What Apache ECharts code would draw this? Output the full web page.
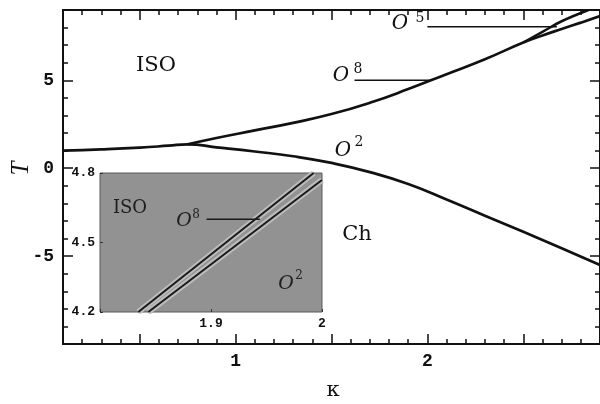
<!DOCTYPE html>
<html><head><meta charset="utf-8">
<script src="https://cdn.jsdelivr.net/npm/echarts@6/dist/echarts.min.js"></script>
<style>html,body{margin:0;padding:0;background:#fff}#c{width:600px;height:404px}</style>
</head><body><div id="c"></div>
<script>
// ---- data ----
const xMin = 0.1, xMax = 2.9, yMin = -10, yMax = 9;
const xMajorTicks = [0.5, 1, 1.5, 2, 2.5];
const xTickLabels = [1, 2];
const yMajorTicks = [-5, 0, 5];
const yTickLabels = [-5, 0, 5];

// ISO line that continues into the O2 / Ch boundary
const kappaLower = [0.1, 0.3, 0.5, 0.65, 0.75, 0.9, 1.1, 1.3, 1.5, 1.7, 1.9, 2.1, 2.3, 2.5, 2.7, 2.9];
const tLower     = [1.0, 1.07, 1.17, 1.28, 1.36, 1.19, 0.95, 0.68, 0.3, -0.22, -0.9, -1.78, -2.7, -3.62, -4.55, -5.5];
// ISO / O8 boundary, continuing as O8 / O5 boundary
const kappaUpper = [0.75, 0.9, 1.1, 1.3, 1.5, 1.7, 1.9, 2.1, 2.3, 2.5, 2.6, 2.7, 2.8, 2.9];
const tUpper     = [1.36, 1.72, 2.15, 2.58, 3.08, 3.72, 4.5, 5.35, 6.2, 7.15, 7.55, 7.92, 8.28, 8.65];
// ISO / O5 boundary
const kappaO5 = [2.5, 2.6, 2.7, 2.84];
const tO5     = [7.15, 7.76, 8.36, 9.0];

// inset (kappa 1.8..2.0, T 4.2..4.8)
const insetXMin = 1.8, insetXMax = 2.0, insetYMin = 4.2, insetYMax = 4.8;
const insetXLabels = [1.9, 2];
const insetKappaA = [1.8345, 1.9925];
const insetTA     = [4.2, 4.8];
const insetKappaB = [1.8435, 2.0];
const insetTB     = [4.2, 4.77];

// pointer lines of the labels
const ptrO8 = [[1.62, 5.0], [2.01, 5.0]];
const ptrO5 = [[2.0, 8.05], [2.675, 8.05]];
const ptrInsetO8 = [[1.896, 4.6], [1.944, 4.6]];

// ---- chart ----
const zip = (xs, ys) => xs.map((x, i) => [x, ys[i]]);
const black = '#111';
const tickFont = {fontFamily: 'Liberation Mono', fontWeight: 'bold', fontSize: 18, color: black};
const insetFont = {fontFamily: 'Liberation Mono', fontWeight: 'bold', fontSize: 13, color: black};
const minorTick = {show: true, inside: true, length: 5, lineStyle: {color: black, width: 1.5}};
const majorTick = {show: true, inside: true, length: 10, lineStyle: {color: black, width: 1.5}};
const insetTick = {show: true, inside: true, length: 3, lineStyle: {color: '#333', width: 1}};
const axLine = {show: true, onZero: false, lineStyle: {color: black, width: 2}};
const noLine = {show: false, onZero: false};

const mainX = {type: 'value', gridIndex: 0, min: xMin, max: xMax, splitLine: {show: false}};
const mainY = {type: 'value', gridIndex: 0, min: yMin, max: yMax, splitLine: {show: false}};

const lineS = (data, xi, yi, width, color, extra) => Object.assign({
  type: 'line', xAxisIndex: xi, yAxisIndex: yi, data: data, symbol: 'none',
  lineStyle: {color: color, width: width}, silent: true, animation: false
}, extra || {});

const txt = (text, x, y, font, fill, extra) => Object.assign({
  type: 'text', z: 100, x: x, y: y,
  style: {text: text, x: 0, y: 0, align: 'center', verticalAlign: 'middle', font: font, fill: fill || black}
}, extra || {});

const chart = echarts.init(document.getElementById('c'));
chart.setOption({
  animation: false,
  backgroundColor: '#fff',
  grid: [
    {left: 63, top: 10, width: 537, height: 334, outerBoundsMode: 'none'},
    {left: 100, top: 173, width: 222, height: 139, show: true, outerBoundsMode: 'none',
     backgroundColor: '#929292', borderColor: '#5a5a5a', borderWidth: 1}
  ],
  xAxis: [
    Object.assign({}, mainX, {position: 'bottom', interval: 0.1, axisLine: axLine, axisTick: minorTick, axisLabel: {show: false}}),
    Object.assign({}, mainX, {position: 'bottom', axisLine: noLine,
      axisTick: Object.assign({customValues: xMajorTicks}, majorTick),
      axisLabel: Object.assign({customValues: xTickLabels, margin: 8}, tickFont)}),
    Object.assign({}, mainX, {position: 'top', interval: 0.1, axisLine: axLine, axisTick: minorTick, axisLabel: {show: false}}),
    Object.assign({}, mainX, {position: 'top', axisLine: noLine,
      axisTick: Object.assign({customValues: xMajorTicks}, majorTick), axisLabel: {show: false}}),
    {type: 'value', gridIndex: 1, min: insetXMin, max: insetXMax, interval: 0.1, position: 'bottom',
     splitLine: {show: false}, axisLine: noLine, axisTick: insetTick,
     axisLabel: Object.assign({customValues: insetXLabels, margin: 5}, insetFont)}
  ],
  yAxis: [
    Object.assign({}, mainY, {position: 'left', interval: 1, axisLine: axLine, axisTick: minorTick, axisLabel: {show: false}}),
    Object.assign({}, mainY, {position: 'left', axisLine: noLine,
      axisTick: Object.assign({customValues: yMajorTicks}, majorTick),
      axisLabel: Object.assign({customValues: yTickLabels, margin: 9}, tickFont)}),
    Object.assign({}, mainY, {position: 'right', interval: 1, axisLine: axLine, axisTick: minorTick, axisLabel: {show: false}}),
    Object.assign({}, mainY, {position: 'right', axisLine: noLine,
      axisTick: Object.assign({customValues: yMajorTicks}, majorTick), axisLabel: {show: false}}),
    {type: 'value', gridIndex: 1, min: insetYMin, max: insetYMax, interval: 0.3, position: 'left',
     splitLine: {show: false}, axisLine: noLine, axisTick: insetTick,
     axisLabel: Object.assign({margin: 5}, insetFont)}
  ],
  series: [
    lineS(zip(kappaLower, tLower), 0, 0, 2.7, black, {smooth: 0.5}),
    lineS(zip(kappaUpper, tUpper), 0, 0, 2.7, black, {smooth: 0.5}),
    lineS(zip(kappaO5, tO5), 0, 0, 2.5, black, {smooth: 0.4}),
    lineS(ptrO8, 0, 0, 1.5, black),
    lineS(ptrO5, 0, 0, 1.5, black),
    // inset
    lineS(zip(insetKappaA, insetTA), 4, 4, 6, '#bcbcbc'),
    lineS(zip(insetKappaB, insetTB), 4, 4, 6, '#bcbcbc'),
    lineS(zip(insetKappaA, insetTA), 4, 4, 2, '#1a1a1a'),
    lineS(zip(insetKappaB, insetTB), 4, 4, 2, '#1a1a1a'),
    lineS(ptrInsetO8, 4, 4, 1.5, '#1a1a1a')
  ],
  graphic: [
    // axis titles
    txt('T', 21.5, 168.5, 'italic 25px "Liberation Serif"', black, {rotation: Math.PI / 2}),
    txt('κ', 333, 390.5, '21px "DejaVu Serif"'),
    // region labels
    txt('ISO', 156, 66, '21px "DejaVu Serif"'),
    txt('Ch', 357, 235, '21px "DejaVu Serif"'),
    txt('O', 341, 76, 'italic 20px "DejaVu Serif"'),
    txt('8', 358, 69, '14px "DejaVu Serif"'),
    txt('O', 343, 151, 'italic 20px "DejaVu Serif"'),
    txt('2', 359, 142, '14px "DejaVu Serif"'),
    txt('O', 400, 24, 'italic 20px "DejaVu Serif"'),
    txt('5', 420, 18, '14px "DejaVu Serif"'),
    // inset texts
    txt('ISO', 130, 208, '18px "DejaVu Serif"', '#1e1e1e'),
    txt('O', 184, 221, 'italic 19px "DejaVu Serif"', '#1e1e1e'),
    txt('8', 196, 215, '12px "DejaVu Serif"', '#1e1e1e'),
    txt('O', 286, 284, 'italic 19px "DejaVu Serif"', '#1e1e1e'),
    txt('2', 299, 276, '12px "DejaVu Serif"', '#1e1e1e')
  ]
});
</script>
</body></html>
